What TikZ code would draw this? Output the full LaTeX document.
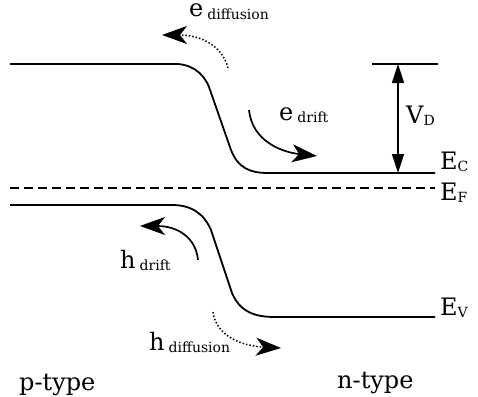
\documentclass[tikz,border=0pt]{standalone}
\usepackage{fontspec}
\setmainfont{DejaVu Serif}
\usetikzlibrary{arrows.meta}
\newcommand{\bigt}{\fontsize{24}{24}\selectfont}
\newcommand{\subt}[1]{\raisebox{-2pt}{\fontsize{14}{14}\selectfont #1}}
\begin{document}
\begin{tikzpicture}[x=1pt,y=-1pt,
  band/.style={line width=1.8pt},
  fermi/.style={line width=1.5pt, dash pattern=on 9pt off 5pt},
  flowsolid/.style={line width=1.7pt, -{Stealth[length=25pt,width=18pt,inset=7pt]}},
  flowdot/.style={line width=1.5pt, dash pattern=on 1.5pt off 2pt, -{Stealth[length=25pt,width=18pt,inset=7pt]}},
  lbl/.style={anchor=base west, inner sep=0pt, font=\bigt}]
\useasboundingbox (0,0) rectangle (478,396);
% bands
\draw[band] (10,64) -- (172,64) .. controls (190,63) and (203,72) .. (209,87) -- (231,150) .. controls (238,168) and (250,173) .. (268,173) -- (435,173);
\draw[band] (10,205) -- (172,205) .. controls (192,205) and (204,214) .. (211,230) -- (232,293) .. controls (240,312) and (255,317) .. (275,317) -- (435,317);
\draw[fermi] (10,188) -- (435,188);
% V_D
\coordinate (vtopL) at (372,64);
\coordinate (vtopR) at (438,64);
\coordinate (vtop) at (398,64);
\coordinate (vbot) at (398,173);
\draw[band] (vtopL) -- (vtopR);
\draw[line width=1.5pt, {Triangle[length=19pt,width=12pt]}-{Triangle[length=19pt,width=12pt]}] (vtop) -- (vbot);
% arrows
\coordinate (edA) at (228,68); \coordinate (edB) at (162,35);
\draw[flowdot] (edA) .. controls (222,45) and (200,35) .. (edB);
\coordinate (erA) at (249,110); \coordinate (erB) at (317,156);
\draw[flowsolid] (erA) .. controls (252,140) and (280,152) .. (erB);
\coordinate (hrA) at (198,260); \coordinate (hrB) at (140,226);
\draw[flowsolid] (hrA) .. controls (196,238) and (178,226) .. (hrB);
\coordinate (hdA) at (213,312); \coordinate (hdB) at (281,348);
\draw[flowdot] (hdA) .. controls (216,336) and (242,346) .. (hdB);
% labels
\node[lbl] (ediff) at (189,17) {e\hspace{4pt}\subt{diffusion}};
\node[lbl] (edrift) at (279,120) {e\hspace{4pt}\subt{drift}};
\node[lbl] (hdrift) at (120,268) {h\hspace{4pt}\subt{drift}};
\node[lbl] (hdiff) at (149,350) {h\hspace{4pt}\subt{diffusion}};
\node[lbl] (vd) at (406,123) {V\subt{D}};
\node[lbl] (ec) at (440,169) {E\subt{C}};
\node[lbl] (ef) at (440,200) {E\subt{F}};
\node[lbl] (ev) at (440,315) {E\subt{V}};
\node[lbl] (ptype) at (19,390) {p-type};
\node[lbl] (ntype) at (337,388) {n-type};
\end{tikzpicture}
\end{document}
